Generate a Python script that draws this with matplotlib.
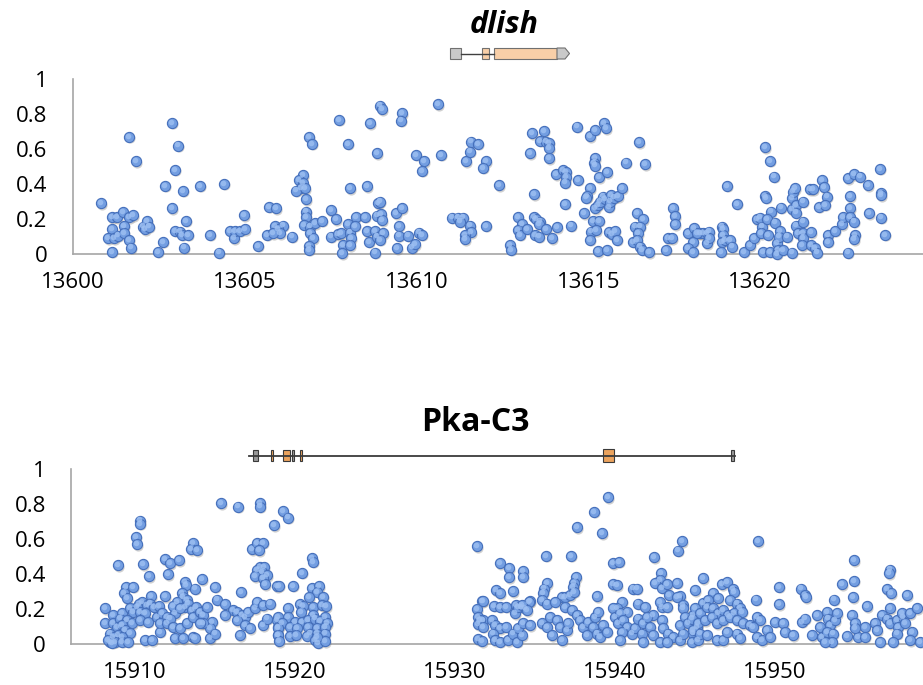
import numpy as np
import matplotlib
matplotlib.use("Agg")
import matplotlib.pyplot as plt
from matplotlib.patches import Rectangle, Polygon
from matplotlib.transforms import offset_copy

plt.rcParams["font.family"] = ["Open Sans", "DejaVu Sans"]

# (position, value)
dlish_points = [
    (13600.82, 0.29), (13601.65, 0.67), (13601.84, 0.53), (13602.90, 0.75), (13603.06, 0.62),
    (13602.97, 0.48), (13602.70, 0.39), (13603.21, 0.36), (13603.71, 0.39), (13604.40, 0.40),
    (13602.90, 0.26), (13603.29, 0.19), (13604.99, 0.22), (13605.72, 0.27), (13605.92, 0.26),
    (13601.13, 0.21), (13601.28, 0.21), (13601.46, 0.24), (13601.65, 0.21), (13601.74, 0.22),
    (13601.13, 0.14), (13601.50, 0.16), (13601.04, 0.09), (13601.19, 0.09), (13601.33, 0.105),
    (13601.50, 0.12), (13601.65, 0.08), (13601.70, 0.036), (13601.13, 0.013), (13602.04, 0.156),
    (13602.15, 0.19), (13602.11, 0.14), (13602.23, 0.156), (13602.98, 0.133), (13603.13, 0.128),
    (13603.17, 0.11), (13603.35, 0.11), (13602.62, 0.07), (13602.48, 0.013), (13603.25, 0.036),
    (13604.00, 0.11), (13604.27, 0.008), (13604.57, 0.133), (13604.68, 0.09), (13604.72, 0.133),
    (13604.87, 0.133), (13605.02, 0.14), (13605.40, 0.046), (13605.64, 0.11), (13605.89, 0.16),
    (13606.11, 0.162), (13605.98, 0.141), (13606.03, 0.118), (13605.83, 0.118), (13606.37, 0.099),
    (13606.88, 0.67), (13606.97, 0.63), (13607.74, 0.766), (13608.02, 0.63), (13608.66, 0.747),
    (13608.93, 0.848), (13609.00, 0.827), (13608.84, 0.575), (13609.59, 0.804), (13609.54, 0.762),
    (13610.64, 0.855), (13609.99, 0.566), (13610.22, 0.531), (13610.17, 0.476), (13610.73, 0.566),
    (13611.43, 0.531), (13611.58, 0.642), (13611.79, 0.629), (13611.56, 0.585), (13612.02, 0.531),
    (13611.93, 0.493), (13606.69, 0.451), (13606.59, 0.423), (13606.69, 0.404), (13606.63, 0.375),
    (13606.51, 0.362), (13606.75, 0.375), (13606.79, 0.314), (13608.07, 0.377), (13608.57, 0.387),
    (13606.79, 0.242), (13606.79, 0.213), (13606.74, 0.166), (13606.90, 0.156), (13606.90, 0.118),
    (13606.98, 0.09), (13606.88, 0.046), (13606.88, 0.023), (13607.05, 0.175), (13607.24, 0.189),
    (13607.51, 0.251), (13607.66, 0.198), (13607.51, 0.099), (13607.72, 0.114), (13607.81, 0.118),
    (13607.87, 0.051), (13607.83, 0.004), (13608.02, 0.171), (13608.07, 0.122), (13608.11, 0.09),
    (13608.07, 0.051), (13608.24, 0.213), (13608.49, 0.213), (13608.22, 0.16), (13608.57, 0.131),
    (13608.61, 0.07), (13608.80, 0.13), (13608.84, 0.099), (13608.80, 0.008), (13608.89, 0.29),
    (13608.94, 0.299), (13608.84, 0.219), (13608.97, 0.227), (13608.99, 0.194), (13609.03, 0.118),
    (13608.94, 0.08), (13609.40, 0.232), (13609.59, 0.261), (13609.50, 0.16), (13609.50, 0.105),
    (13609.77, 0.105), (13609.45, 0.032), (13609.86, 0.036), (13609.96, 0.057), (13610.07, 0.122),
    (13610.16, 0.109), (13611.05, 0.208), (13611.22, 0.208), (13611.36, 0.208), (13611.27, 0.185),
    (13611.56, 0.162), (13611.60, 0.124), (13611.41, 0.109), (13611.41, 0.084), (13612.02, 0.16),
    (13612.39, 0.394), (13612.71, 0.051), (13612.76, 0.023), (13612.95, 0.213), (13613.07, 0.171),
    (13612.95, 0.137), (13613.02, 0.109), (13613.21, 0.143), (13613.41, 0.341), (13613.31, 0.575),
    (13613.36, 0.69), (13613.72, 0.703), (13613.59, 0.646), (13613.78, 0.642), (13613.86, 0.636),
    (13613.86, 0.604), (13613.86, 0.547), (13613.41, 0.213), (13613.47, 0.2), (13613.60, 0.185),
    (13613.56, 0.171), (13613.46, 0.109), (13613.58, 0.099), (13613.78, 0.141), (13613.94, 0.09),
    (13614.09, 0.152), (13614.06, 0.457), (13614.26, 0.48), (13614.35, 0.47), (13614.35, 0.438),
    (13614.33, 0.408), (13614.69, 0.423), (13614.33, 0.286), (13614.49, 0.162), (13614.68, 0.728),
    (13615.06, 0.674), (13615.20, 0.709), (13615.46, 0.747), (13615.51, 0.718), (13615.20, 0.547),
    (13615.17, 0.518), (13615.20, 0.505), (13615.30, 0.438), (13615.56, 0.467), (13615.06, 0.375),
    (13614.96, 0.331), (13614.92, 0.322), (13614.87, 0.232), (13615.20, 0.261), (13615.27, 0.28),
    (13615.35, 0.299), (13615.42, 0.328), (13615.50, 0.314), (13615.59, 0.27), (13615.62, 0.299),
    (13615.65, 0.337), (13615.74, 0.322), (13615.87, 0.331), (13615.98, 0.375), (13615.15, 0.189),
    (13615.32, 0.189), (13615.08, 0.128), (13615.23, 0.137), (13615.06, 0.08), (13615.27, 0.017),
    (13615.56, 0.023), (13615.59, 0.124), (13615.69, 0.114), (13615.78, 0.133), (13615.83, 0.08),
    (13616.11, 0.522), (13616.47, 0.638), (13616.65, 0.512), (13616.41, 0.232), (13616.58, 0.198),
    (13616.37, 0.156), (13616.51, 0.156), (13616.46, 0.118), (13616.31, 0.07), (13616.41, 0.08),
    (13616.51, 0.042), (13616.56, 0.023), (13616.76, 0.01), (13617.26, 0.023), (13617.33, 0.09),
    (13617.45, 0.09), (13617.48, 0.261), (13617.51, 0.217), (13617.53, 0.171), (13617.89, 0.118),
    (13618.06, 0.07), (13617.89, 0.032), (13618.06, 0.013), (13618.08, 0.147), (13618.26, 0.118),
    (13618.35, 0.118), (13618.45, 0.118), (13618.15, 0.118), (13618.45, 0.061), (13618.50, 0.128),
    (13618.50, 0.09), (13618.89, 0.156), (13618.93, 0.141), (13618.93, 0.109), (13618.89, 0.07),
    (13618.98, 0.08), (13619.13, 0.08), (13619.18, 0.042), (13618.85, 0.013), (13619.05, 0.389),
    (13619.32, 0.286), (13619.54, 0.013), (13619.72, 0.051), (13619.82, 0.09), (13619.90, 0.198),
    (13620.00, 0.208), (13620.05, 0.156), (13620.03, 0.118), (13620.14, 0.61), (13620.29, 0.533),
    (13620.39, 0.442), (13620.14, 0.331), (13620.17, 0.32), (13620.33, 0.242), (13620.21, 0.198),
    (13620.44, 0.179), (13620.24, 0.109), (13620.09, 0.013), (13620.29, 0.013), (13620.48, 0.061),
    (13620.53, 0.023), (13620.50, 0.0), (13620.59, 0.133), (13620.56, 0.099), (13620.60, 0.265),
    (13620.68, 0.023), (13620.77, 0.099), (13620.92, 0.008), (13620.92, 0.318), (13620.97, 0.356),
    (13621.02, 0.375), (13620.92, 0.255), (13621.05, 0.28), (13621.05, 0.236), (13621.24, 0.299),
    (13621.05, 0.162), (13621.11, 0.118), (13621.26, 0.185), (13621.26, 0.118), (13621.26, 0.09),
    (13621.21, 0.051), (13621.48, 0.124), (13621.46, 0.371), (13621.53, 0.371), (13621.48, 0.051),
    (13621.60, 0.032), (13621.65, 0.008), (13621.79, 0.423), (13621.87, 0.381), (13621.94, 0.328),
    (13621.70, 0.27), (13621.89, 0.28), (13621.99, 0.109), (13621.99, 0.07), (13622.18, 0.133),
    (13622.37, 0.171), (13622.40, 0.213), (13622.57, 0.432), (13622.72, 0.457), (13622.90, 0.442),
    (13622.62, 0.331), (13622.62, 0.261), (13622.63, 0.213), (13622.72, 0.185), (13622.77, 0.109),
    (13622.72, 0.084), (13622.57, 0.008), (13623.13, 0.394), (13623.18, 0.232), (13623.49, 0.486),
    (13623.53, 0.35), (13623.51, 0.337), (13623.53, 0.208), (13623.64, 0.109),
]

pka_points = [
    (15915.35, 0.803), (15916.45, 0.784), (15917.81, 0.803), (15917.81, 0.784), (15918.71, 0.679),
    (15910.31, 0.704), (15910.31, 0.685), (15910.06, 0.612), (15910.14, 0.568), (15913.65, 0.577),
    (15913.48, 0.539), (15913.85, 0.535), (15917.29, 0.539), (15917.60, 0.574), (15917.98, 0.577),
    (15917.77, 0.535), (15908.96, 0.449), (15910.52, 0.455), (15910.89, 0.386), (15911.87, 0.482),
    (15912.18, 0.459), (15912.77, 0.478), (15912.08, 0.396), (15917.81, 0.440), (15918.06, 0.440),
    (15917.60, 0.421), (15917.92, 0.411), (15917.50, 0.386), (15918.27, 0.392), (15918.02, 0.373),
    (15918.12, 0.340), (15909.44, 0.325), (15909.89, 0.325), (15909.31, 0.287), (15909.48, 0.258),
    (15913.13, 0.354), (15913.19, 0.335), (15914.17, 0.369), (15913.75, 0.315), (15915.00, 0.325),
    (15916.62, 0.296), (15912.92, 0.287), (15913.02, 0.268), (15913.23, 0.249), (15913.13, 0.210),
    (15913.33, 0.229), (15911.87, 0.272), (15910.97, 0.272), (15910.45, 0.239), (15910.27, 0.226),
    (15910.10, 0.210), (15910.72, 0.220), (15910.93, 0.229), (15911.18, 0.210), (15911.51, 0.214),
    (15908.13, 0.201), (15908.65, 0.163), (15909.17, 0.176), (15909.69, 0.201), (15909.89, 0.182),
    (15910.31, 0.182), (15910.62, 0.172), (15908.13, 0.119), (15908.65, 0.119), (15909.06, 0.143),
    (15909.48, 0.134), (15909.79, 0.115), (15910.31, 0.134), (15910.83, 0.124), (15911.35, 0.153),
    (15911.66, 0.172), (15911.97, 0.153), (15912.49, 0.172), (15912.60, 0.239), (15912.39, 0.214),
    (15912.81, 0.201), (15908.85, 0.096), (15909.17, 0.105), (15909.37, 0.076), (15909.69, 0.061),
    (15908.96, 0.048), (15909.17, 0.038), (15908.44, 0.057), (15908.65, 0.038), (15908.75, 0.010),
    (15908.44, 0.010), (15908.33, 0.019), (15908.54, 0.004), (15909.17, 0.010), (15909.58, 0.010),
    (15910.62, 0.019), (15911.04, 0.019), (15911.56, 0.067), (15911.56, 0.115), (15911.97, 0.115),
    (15912.18, 0.143), (15912.39, 0.096), (15912.49, 0.029), (15913.02, 0.029), (15912.81, 0.086),
    (15913.23, 0.115), (15913.54, 0.191), (15913.65, 0.153), (15913.81, 0.210), (15914.06, 0.182),
    (15914.27, 0.163), (15914.48, 0.210), (15914.79, 0.124), (15914.68, 0.086), (15914.27, 0.115),
    (15914.06, 0.115), (15914.68, 0.029), (15915.00, 0.057), (15913.65, 0.038), (15913.75, 0.029),
    (15915.10, 0.252), (15915.62, 0.226), (15916.14, 0.191), (15916.35, 0.182), (15916.66, 0.163),
    (15916.88, 0.153), (15917.09, 0.182), (15917.50, 0.201), (15917.60, 0.239), (15918.02, 0.220),
    (15918.44, 0.229), (15915.62, 0.163), (15916.35, 0.134), (15916.88, 0.105), (15917.19, 0.086),
    (15918.02, 0.105), (15918.23, 0.143), (15918.85, 0.329), (15916.56, 0.048), (15918.85, 0.134),
    (15918.96, 0.096), (15918.96, 0.048),
    (15919.27, 0.759), (15919.58, 0.721), (15921.05, 0.488), (15921.15, 0.468), (15920.46, 0.405),
    (15919.02, 0.331), (15919.85, 0.331), (15921.05, 0.316), (15921.52, 0.329), (15921.36, 0.296),
    (15920.90, 0.264), (15921.77, 0.268), (15920.31, 0.226), (15920.52, 0.216), (15921.15, 0.210),
    (15921.67, 0.220), (15921.94, 0.214), (15919.58, 0.201), (15920.35, 0.178), (15921.11, 0.163),
    (15921.88, 0.153), (15918.96, 0.153), (15919.58, 0.153), (15920.00, 0.124), (15920.41, 0.124),
    (15920.84, 0.134), (15921.25, 0.143), (15921.57, 0.130), (15921.98, 0.115), (15919.16, 0.115),
    (15918.96, 0.086), (15919.68, 0.096), (15920.10, 0.086), (15920.84, 0.096), (15921.36, 0.086),
    (15921.88, 0.096), (15920.94, 0.057), (15921.36, 0.057), (15921.88, 0.057), (15918.96, 0.048),
    (15919.02, 0.013), (15919.68, 0.042), (15920.06, 0.048), (15920.72, 0.044), (15921.25, 0.019),
    (15921.46, 0.004), (15921.88, 0.013), (15921.36, 0.038),
    (15931.40, 0.558), (15931.71, 0.243), (15931.40, 0.197), (15931.46, 0.153), (15931.77, 0.134),
    (15931.46, 0.111), (15931.46, 0.025), (15931.71, 0.013),
    (15939.59, 0.838), (15938.70, 0.755), (15937.60, 0.665), (15939.21, 0.631), (15944.21, 0.587),
    (15943.92, 0.532), (15935.67, 0.503), (15937.23, 0.503), (15942.44, 0.493), (15932.81, 0.459),
    (15933.39, 0.430), (15933.39, 0.379), (15934.28, 0.415), (15934.28, 0.382), (15939.90, 0.459),
    (15940.27, 0.468), (15937.54, 0.379), (15937.44, 0.344), (15937.35, 0.325), (15935.73, 0.344),
    (15935.57, 0.315), (15935.48, 0.291), (15932.56, 0.306), (15932.81, 0.287), (15933.60, 0.300),
    (15939.90, 0.340), (15940.11, 0.335), (15941.15, 0.315), (15941.40, 0.315), (15942.85, 0.402),
    (15942.81, 0.363), (15942.50, 0.348), (15942.92, 0.319), (15943.23, 0.340), (15943.85, 0.348),
    (15945.00, 0.306), (15931.73, 0.245), (15938.90, 0.272), (15943.39, 0.277), (15944.07, 0.272),
    (15943.86, 0.268), (15934.69, 0.243), (15936.67, 0.264), (15936.88, 0.268), (15937.19, 0.277),
    (15937.44, 0.296), (15935.42, 0.249), (15935.73, 0.229), (15936.24, 0.239), (15932.44, 0.216),
    (15932.81, 0.210), (15933.17, 0.210), (15933.81, 0.220), (15934.11, 0.210), (15934.38, 0.201),
    (15934.65, 0.239), (15940.42, 0.239), (15940.11, 0.201), (15940.73, 0.182), (15941.46, 0.229),
    (15941.88, 0.210), (15942.40, 0.163), (15942.92, 0.210), (15942.81, 0.239), (15943.27, 0.210),
    (15944.23, 0.220), (15944.28, 0.201), (15944.90, 0.163), (15931.56, 0.134), (15931.77, 0.096),
    (15932.29, 0.134), (15932.49, 0.105), (15932.81, 0.086), (15933.21, 0.096), (15932.39, 0.057),
    (15932.49, 0.019), (15932.81, 0.010), (15933.33, 0.019), (15933.64, 0.057), (15933.85, 0.010),
    (15934.16, 0.048), (15933.95, 0.086), (15934.28, 0.115), (15933.75, 0.172), (15933.95, 0.210),
    (15934.16, 0.220), (15934.48, 0.191), (15934.69, 0.105), (15935.42, 0.115), (15935.73, 0.096),
    (15935.94, 0.153), (15936.04, 0.048), (15936.35, 0.134), (15936.56, 0.096), (15936.67, 0.019),
    (15936.98, 0.076), (15937.08, 0.115), (15936.88, 0.210), (15937.29, 0.191), (15937.60, 0.163),
    (15937.81, 0.134), (15938.02, 0.096), (15938.33, 0.124), (15938.23, 0.048), (15938.64, 0.096),
    (15938.75, 0.153), (15938.95, 0.182), (15938.85, 0.057), (15939.06, 0.038), (15939.27, 0.105),
    (15939.47, 0.067), (15939.90, 0.201), (15940.00, 0.153), (15940.32, 0.172), (15940.21, 0.115),
    (15940.52, 0.134), (15940.73, 0.096), (15940.42, 0.067), (15940.32, 0.019), (15941.05, 0.057),
    (15941.25, 0.086), (15941.46, 0.143), (15941.77, 0.115), (15941.67, 0.057), (15941.98, 0.153),
    (15942.19, 0.096), (15941.77, 0.010), (15942.40, 0.048), (15942.92, 0.134), (15943.02, 0.086),
    (15942.81, 0.010), (15943.33, 0.057), (15943.64, 0.038), (15943.23, 0.010), (15944.07, 0.019),
    (15944.28, 0.057), (15944.07, 0.105), (15944.38, 0.153), (15944.59, 0.115), (15944.90, 0.057),
    (15945.11, 0.096), (15944.80, 0.010), (15945.21, 0.019),
    (15948.96, 0.587), (15954.94, 0.478), (15957.20, 0.424), (15957.13, 0.402), (15945.52, 0.373),
    (15946.67, 0.340), (15946.98, 0.354), (15947.36, 0.310), (15947.41, 0.296), (15950.25, 0.325),
    (15951.62, 0.315), (15951.88, 0.277), (15951.95, 0.264), (15954.17, 0.340), (15954.96, 0.359),
    (15954.90, 0.264), (15956.99, 0.310), (15957.26, 0.287), (15958.24, 0.277), (15946.15, 0.287),
    (15948.80, 0.252), (15950.25, 0.224), (15953.69, 0.252), (15955.77, 0.214), (15945.52, 0.233),
    (15945.84, 0.249), (15946.46, 0.258), (15947.20, 0.249), (15947.61, 0.229), (15947.82, 0.201),
    (15945.00, 0.201), (15945.32, 0.172), (15945.73, 0.210), (15946.15, 0.201), (15946.46, 0.172),
    (15946.77, 0.191), (15947.09, 0.163), (15947.41, 0.172), (15947.92, 0.182), (15944.80, 0.143),
    (15945.21, 0.115), (15945.63, 0.134), (15946.04, 0.153), (15946.35, 0.115), (15946.77, 0.134),
    (15947.20, 0.153), (15947.61, 0.134), (15948.03, 0.115), (15948.44, 0.105), (15948.86, 0.153),
    (15949.07, 0.134), (15944.90, 0.076), (15945.32, 0.057), (15945.73, 0.048), (15946.35, 0.019),
    (15946.77, 0.019), (15946.98, 0.067), (15947.61, 0.057), (15947.82, 0.029), (15948.65, 0.096),
    (15948.86, 0.038), (15949.17, 0.019), (15949.48, 0.076), (15949.69, 0.038), (15950.00, 0.124),
    (15950.52, 0.115), (15950.62, 0.067), (15951.14, 0.048), (15951.67, 0.124), (15951.88, 0.143),
    (15952.61, 0.163), (15952.82, 0.096), (15952.30, 0.048), (15952.92, 0.038), (15953.24, 0.182),
    (15953.34, 0.143), (15953.44, 0.105), (15953.24, 0.067), (15953.65, 0.057), (15953.76, 0.134),
    (15953.86, 0.172), (15953.55, 0.010), (15953.14, 0.010), (15954.48, 0.042), (15954.79, 0.163),
    (15955.00, 0.115), (15955.21, 0.038), (15955.00, 0.086), (15955.63, 0.096), (15955.63, 0.038),
    (15956.25, 0.115), (15956.35, 0.076), (15956.57, 0.010), (15956.68, 0.163), (15956.99, 0.143),
    (15957.20, 0.201), (15957.20, 0.115), (15957.60, 0.134), (15957.71, 0.096), (15957.60, 0.057),
    (15958.02, 0.153), (15957.92, 0.172), (15958.12, 0.115), (15958.43, 0.172), (15958.85, 0.201),
    (15958.54, 0.067), (15958.43, 0.019), (15959.05, 0.010), (15957.39, 0.010),
]

dlish_ticks = [13600, 13605, 13610, 13615, 13620]
pka_ticks = [15910, 15920, 15930, 15940, 15950]
y_ticks = [0, 0.2, 0.4, 0.6, 0.8, 1]
y_labels = ["0", "0.2", "0.4", "0.6", "0.8", "1"]

# gene models, drawn in figure pixel units (left, right, kind)
dlish_parts = [(450, 461, "utr"), (482, 489, "cds"), (494, 557, "cds")]
pka_parts = [(253, 258, "utr"), (271, 273, "cds"), (283, 290, "cds"), (292, 294, "utr"),
             (300, 302, "cds"), (603, 614, "cds"), (731, 734, "utr")]

W, H = 923, 685
FACE = "#739EE1"
EDGE = "#4670BB"
SIZE = 54


def style_axes(ax, ticks):
    for s in ["top", "right"]:
        ax.spines[s].set_visible(False)
    for s in ["left", "bottom"]:
        ax.spines[s].set_color("#A6A6A6")
        ax.spines[s].set_linewidth(1.2)
    ax.set_ylim(0, 1)
    ax.set_yticks(y_ticks)
    ax.set_yticklabels(y_labels)
    ax.set_xticks(ticks)
    ax.set_xticklabels([str(t) for t in ticks])
    ax.tick_params(axis="both", length=0, labelsize=16, colors="black")
    ax.tick_params(axis="x", pad=13)
    ax.tick_params(axis="y", pad=18)
    ax.patch.set_alpha(0)


def scatter(ax, points):
    pts = np.array(points)
    # soft drop shadow, body, then a small highlight to fake the glossy marker
    shadow = offset_copy(ax.transData, fig=ax.figure, x=1.0, y=-1.5, units="dots")
    ax.scatter(pts[:, 0], pts[:, 1], s=SIZE, c="#7A7A7A", alpha=0.35, linewidths=0,
               transform=shadow, clip_on=False, zorder=2.9)
    ax.scatter(pts[:, 0], pts[:, 1], s=SIZE, c=FACE, edgecolors=EDGE, linewidths=0.8,
               clip_on=False, zorder=3)
    shine = offset_copy(ax.transData, fig=ax.figure, x=-1.0, y=1.2, units="dots")
    ax.scatter(pts[:, 0], pts[:, 1], s=SIZE * 0.3, c="#9EC0F2", alpha=0.8, linewidths=0,
               transform=shine, clip_on=False, zorder=3.1)


fig = plt.figure(figsize=(W / 100, H / 100), dpi=100)

# top: 13600..13625 at ~34.37 px per unit, right end runs past the figure
ax1 = fig.add_axes([72.7 / W, (H - 254) / H, 25 * 34.37 / W, 175 / H])
style_axes(ax1, dlish_ticks)
ax1.set_xlim(13600, 13625)
scatter(ax1, dlish_points)

# bottom: 15906..15960 at 16 px per unit
ax2 = fig.add_axes([71 / W, (H - 643.5) / H, 54 * 16 / W, 174.5 / H])
style_axes(ax2, pka_ticks)
ax2.set_xlim(15906, 15960)
scatter(ax2, pka_points)

# overlay in pixel coords for titles and gene models
ov = fig.add_axes([0, 0, 1, 1])
ov.set_xlim(0, W)
ov.set_ylim(H, 0)
ov.axis("off")

ov.text(504, 33, "dlish", ha="center", va="baseline", fontsize=22,
        fontweight="bold", fontstyle="italic")
ov.text(475, 431, "Pka-C3", ha="center", va="baseline", fontsize=23, fontweight="bold")

# dlish model
yc, hh = 53.5, 11
ov.plot([461, 494], [yc, yc], color="#404040", lw=1)
for x0, x1, kind in dlish_parts:
    fc = "#C9C9C9" if kind == "utr" else "#F8CFA8"
    ov.add_patch(Rectangle((x0, yc - hh / 2), x1 - x0, hh, fc=fc, ec="#707070", lw=0.8))
ov.add_patch(Polygon([(557, yc - hh / 2), (565, yc - hh / 2), (569.5, yc),
                      (565, yc + hh / 2), (557, yc + hh / 2)],
                     closed=True, fc="#C9C9C9", ec="#707070", lw=0.8))

# Pka-C3 model
yc = 455.5
ov.plot([248.5, 735], [yc, yc], color="#3A3A3A", lw=1.3)
for x0, x1, kind in pka_parts:
    big = (x1 - x0) > 9
    hh = 13 if big else 11
    fc = "#9A9A9A" if kind == "utr" else "#EBA35E"
    ov.add_patch(Rectangle((x0, yc - hh / 2), x1 - x0, hh, fc=fc, ec="#3A3A3A", lw=0.8))

fig.savefig("out.png", dpi=100)
